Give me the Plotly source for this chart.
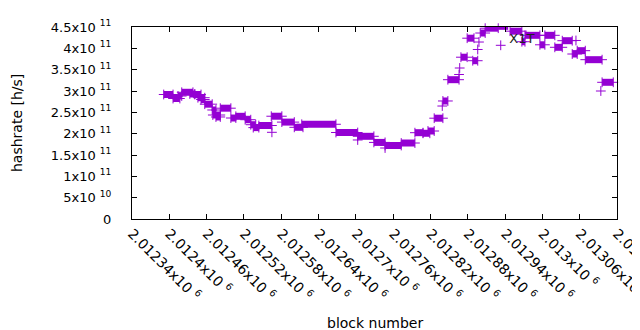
import plotly.graph_objects as go

# ---- data (block number, hashrate in h/s) ----
# runs of blocks that share the same hashrate value
seg_start = [2012391, 2012406, 2012414, 2012420, 2012433, 2012441, 2012446, 2012451,
             2012457, 2012469, 2012470, 2012475, 2012482, 2012499, 2012507, 2012522,
             2012531, 2012535, 2012544, 2012564, 2012581, 2012601, 2012613, 2012668,
             2012703, 2012729, 2012747, 2012773, 2012795, 2012808, 2012816, 2012826,
             2012840, 2012848, 2012869, 2012879, 2012888, 2012900, 2012908, 2012929,
             2012948, 2012967, 2012972, 2012996, 2013004, 2013020, 2013032, 2013048,
             2013056, 2013069, 2013096]
seg_end = [2012406, 2012417, 2012420, 2012438, 2012441, 2012451, 2012457, 2012457,
           2012469, 2012475, 2012482, 2012482, 2012499, 2012507, 2012522, 2012531,
           2012539, 2012544, 2012565, 2012581, 2012601, 2012615, 2012668, 2012703,
           2012729, 2012747, 2012773, 2012795, 2012808, 2012819, 2012826, 2012840,
           2012848, 2012866, 2012879, 2012890, 2012896, 2012908, 2012929, 2012945,
           2012967, 2012972, 2012996, 2013004, 2013020, 2013032, 2013048, 2013056,
           2013069, 2013096, 2013114]
seg_rate = [2.918e11, 2.824e11, 2.883e11, 2.970e11, 2.930e11, 2.918e11, 2.843e11, 2.801e11,
            2.691e11, 2.555e11, 2.4375e11, 2.391e11, 2.597e11, 2.367e11, 2.407e11, 2.327e11,
            2.210e11, 2.142e11, 2.191e11, 2.409e11, 2.271e11, 2.149e11, 2.220e11, 2.027e11,
            1.938e11, 1.795e11, 1.723e11, 1.781e11, 2.023e11, 2.009e11, 2.0625e11, 2.3625e11,
            2.766e11, 3.265e11, 3.792e11, 4.2375e11, 3.710e11, 4.359e11, 4.472e11, 4.516e11,
            4.402e11, 4.155e11, 4.305e11, 4.083e11, 4.305e11, 4.024e11, 4.179e11, 3.867e11,
            3.945e11, 3.734e11, 3.204e11]

# single isolated blocks
pt_block = [2012565, 2012703, 2012747, 2012839, 2012866, 2012867, 2012896, 2012898,
            2012933, 2013054, 2013094]
pt_rate = [2.032e11, 1.852e11, 1.664e11, 2.648e11, 3.387e11, 3.539e11, 3.973e11, 4.148e11,
           4.071e11, 4.184e11, 3.000e11]

y_tickvals = [0, 0.5e11, 1.0e11, 1.5e11, 2.0e11, 2.5e11, 3.0e11, 3.5e11, 4.0e11, 4.5e11]
y_ticktext = ["0", "5x10 <sup>10</sup>", "1x10 <sup>11</sup>", "1.5x10 <sup>11</sup>",
              "2x10 <sup>11</sup>", "2.5x10 <sup>11</sup>", "3x10 <sup>11</sup>",
              "3.5x10 <sup>11</sup>", "4x10 <sup>11</sup>", "4.5x10 <sup>11</sup>"]
x_tickvals = [2012340, 2012400, 2012460, 2012520, 2012580, 2012640, 2012700,
              2012760, 2012820, 2012880, 2012940, 2013000, 2013060, 2013120]
x_ticktext = ["2.01234x10 <sup>6</sup>", "2.0124x10 <sup>6</sup>", "2.01246x10 <sup>6</sup>",
              "2.01252x10 <sup>6</sup>", "2.01258x10 <sup>6</sup>", "2.01264x10 <sup>6</sup>",
              "2.0127x10 <sup>6</sup>", "2.01276x10 <sup>6</sup>", "2.01282x10 <sup>6</sup>",
              "2.01288x10 <sup>6</sup>", "2.01294x10 <sup>6</sup>", "2.013x10 <sup>6</sup>",
              "2.01306x10 <sup>6</sup>", "2.01312x10 <sup>6</sup>"]

COLOR = "#9400d3"
FONT = "DejaVu Sans"

seg_x, seg_y = [], []
for s, e, r in zip(seg_start, seg_end, seg_rate):
    seg_x += [s, e, None]
    seg_y += [r, r, None]

marker_style = dict(symbol="cross-thin", size=7, line=dict(color=COLOR, width=1), color=COLOR)

fig = go.Figure()
fig.add_trace(go.Scatter(
    x=seg_x, y=seg_y, mode="lines+markers",
    line=dict(color=COLOR, width=7),
    marker=marker_style, cliponaxis=False, showlegend=False))
fig.add_trace(go.Scatter(
    x=pt_block, y=pt_rate, mode="markers",
    marker=marker_style, cliponaxis=False, showlegend=False))
fig.add_trace(go.Scatter(
    x=[2012967], y=[4.20e11], mode="text", text=["X1T"],
    textfont=dict(family=FONT, size=13, color="#222222"),
    textposition="middle center", showlegend=False, hoverinfo="skip",
    cliponaxis=False))

fig.update_layout(
    width=640, height=330,
    margin=dict(l=124, r=31, t=19, b=119, autoexpand=False),
    paper_bgcolor="white", plot_bgcolor="white",
    font=dict(family=FONT, size=13, color="black"),
    xaxis=dict(range=[2012340, 2013120], tickvals=x_tickvals, ticktext=x_ticktext,
               tickangle=45, ticks="inside", ticklen=5, tickcolor="black",
               tickfont=dict(family=FONT, size=14, color="black"),
               ticklabeloverflow="allow", automargin=False,
               showline=True, linecolor="black", linewidth=1, mirror="ticks",
               showgrid=False, zeroline=False, ticklabelstandoff=0),
    yaxis=dict(range=[0, 4.5e11], tickvals=y_tickvals, ticktext=y_ticktext,
               ticks="inside", ticklen=5, tickcolor="black",
               tickfont=dict(family=FONT, size=13, color="black"),
               automargin=False,
               showline=True, linecolor="black", linewidth=1, mirror="ticks",
               showgrid=False, zeroline=False, ticklabelstandoff=17),
    annotations=[
        dict(text="hashrate [h/s]", xref="paper", yref="paper", x=0, y=0.5,
             xanchor="center", yanchor="middle",
             xshift=-115, textangle=-90, showarrow=False,
             font=dict(family=FONT, size=14, color="black")),
        dict(text="block number", xref="paper", yref="paper", x=0.5, y=0,
             xanchor="center", yanchor="middle",
             yshift=-104, showarrow=False,
             font=dict(family=FONT, size=14, color="black")),
    ],
)
fig.write_html("out.html")
